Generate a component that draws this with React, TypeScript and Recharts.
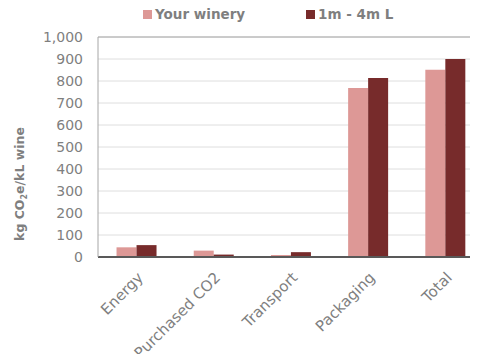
import {
  BarChart,
  Bar,
  XAxis,
  YAxis,
  CartesianGrid,
  Legend,
  ReferenceLine,
} from "recharts";

const categories = ["Energy", "Purchased CO2", "Transport", "Packaging", "Total"];
const yourWinery = [44, 29, 9, 768, 851];
const benchmark = [54, 11, 22, 814, 900];
const yTicks = [0, 100, 200, 300, 400, 500, 600, 700, 800, 900, 1000];

const seriesNames = ["Your winery", "1m - 4m L"];
const colors = ["#dd9896", "#772b2b"];

const data = categories.map((name, i) => ({
  name,
  winery: yourWinery[i],
  bench: benchmark[i],
}));

const FONT = "'DejaVu Sans', sans-serif";
const GREY = "#7f7f7f";

function LegendBox() {
  return (
    <div style={{ display: "flex", paddingLeft: 143, fontFamily: FONT, fontSize: 13.5, fontWeight: 700, color: GREY }}>
      {seriesNames.map((s, i) => (
        <div key={s} style={{ display: "flex", alignItems: "center", marginRight: 61 }}>
          <span style={{ width: 9, height: 9, background: colors[i], marginRight: 3, display: "inline-block" }} />
          <span>{s}</span>
        </div>
      ))}
    </div>
  );
}

function YTitle() {
  return (
    <text
      transform="translate(24, 184) rotate(-90)"
      textAnchor="middle"
      fill={GREY}
      fontFamily={FONT}
      fontSize={12.5}
      fontWeight={700}
    >
      kg CO<tspan fontSize={8} dy={3}>2</tspan>
      <tspan dy={-3}>e/kL wine</tspan>
    </text>
  );
}

export default function App() {
  return (
    <div style={{ marginLeft: -8, marginTop: -8, width: 478, height: 354, overflow: "hidden", background: "#fff" }}>
      <BarChart
        width={490}
        height={354}
        data={data}
        margin={{ top: 37, right: 6, bottom: 0, left: 0 }}
        barCategoryGap="24%"
        barGap={0}
      >
        <CartesianGrid horizontal vertical={false} stroke="#dedede" />
        <ReferenceLine y={1000} stroke="#a6a6a6" />
        <XAxis
          dataKey="name"
          interval={0}
          height={97}
          angle={-45}
          textAnchor="end"
          tickLine={false}
          tickMargin={8}
          axisLine={{ stroke: "#595959", strokeWidth: 2 }}
          tick={{ fill: GREY, fontFamily: FONT, fontSize: 15 }}
        />
        <YAxis
          width={98}
          domain={[0, 1000]}
          ticks={yTicks}
          interval={0}
          tickLine={false}
          tickMargin={9}
          axisLine={{ stroke: "#a6a6a6" }}
          tickFormatter={(v: number) => v.toLocaleString("en-US")}
          tick={{ fill: GREY, fontFamily: FONT, fontSize: 14 }}
          label={<YTitle />}
        />
        <Legend
          layout="horizontal"
          verticalAlign="middle"
          align="center"
          wrapperStyle={{ top: 6, left: 0, width: 490 }}
          content={() => <LegendBox />}
        />
        <Bar dataKey="winery" name={seriesNames[0]} fill={colors[0]} isAnimationActive={false} />
        <Bar dataKey="bench" name={seriesNames[1]} fill={colors[1]} isAnimationActive={false} />
      </BarChart>
    </div>
  );
}
